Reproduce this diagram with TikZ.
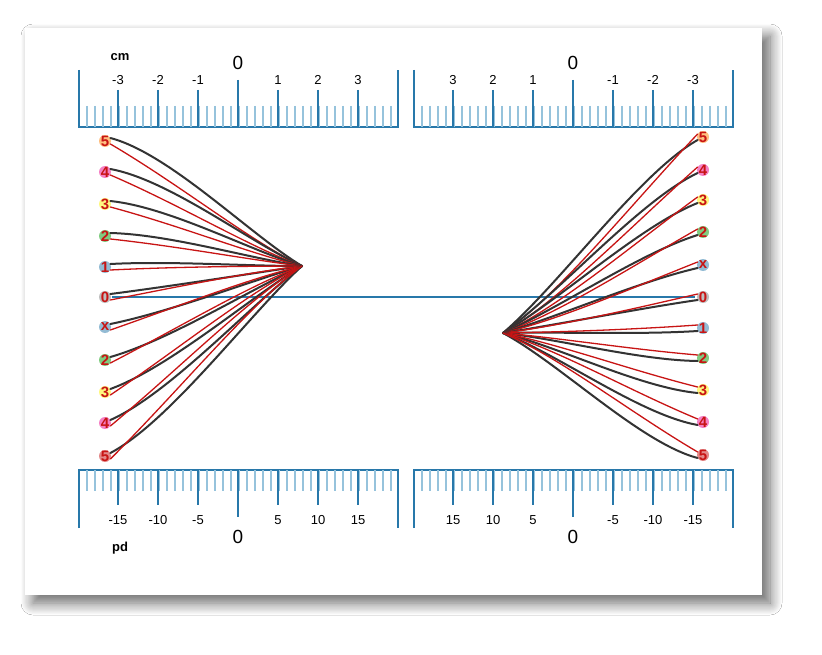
\documentclass[tikz,border=0pt]{standalone}
\usepackage{fontspec}
\setmainfont{Liberation Sans}
\usetikzlibrary{shadows.blur}
\definecolor{rb}{RGB}{40,120,170}
\definecolor{rbl}{RGB}{150,195,220}
\definecolor{rred}{RGB}{200,20,20}
\tikzset{
 card/.style={fill=white,blur shadow={shadow xshift=8pt,shadow yshift=-8pt,shadow blur steps=12,shadow blur radius=12pt,shadow opacity=60}},
 lab/.style={font=\fontsize{13}{13}\selectfont,inner sep=0},
 big/.style={font=\fontsize{19}{19}\selectfont,inner sep=0},
 unit/.style={font=\bfseries\fontsize{13}{13}\selectfont,inner sep=0},
 num/.style={font=\bfseries\fontsize{15}{15}\selectfont,text=rred,inner sep=1pt},
 bl/.style={black!80,line width=2pt,line cap=round},
 rl/.style={rred,line width=1.3pt,line cap=round},
}
\begin{document}
\begin{tikzpicture}[x=1pt,y=-1pt]
\useasboundingbox (0,0) rectangle (822,655);
\fill[white] (0,0) rectangle (822,655);
\path[card] (25,28) rectangle (762,595);
\newcommand{\toprule}[2]{%
 \draw[rb,line width=2pt] (#1,70) -- (#1,127) -- (#1+319,127) -- (#1+319,70);
 \foreach \i in {1,...,39}{\draw[rbl,line width=1.2pt] (#1+\i*8,106) -- (#1+\i*8,127);}
 \foreach \k in {-3,...,3}{\draw[rb,line width=1.5pt] (#2+\k*40,90) -- (#2+\k*40,127);}
 \draw[rb,line width=1.5pt] (#2,80) -- (#2,127);}
\newcommand{\botrule}[2]{%
 \draw[rb,line width=2pt] (#1,528) -- (#1,470) -- (#1+319,470) -- (#1+319,528);
 \foreach \i in {1,...,39}{\draw[rbl,line width=1.2pt] (#1+\i*8,470) -- (#1+\i*8,491);}
 \foreach \k in {-3,...,3}{\draw[rb,line width=1.5pt] (#2+\k*40,470) -- (#2+\k*40,505);}
 \draw[rb,line width=1.5pt] (#2,470) -- (#2,517);}
\toprule{79}{238}
\toprule{414}{573}
\botrule{79}{238}
\botrule{414}{573}
\node[unit] (cm) at (120,57) {cm};
\node[unit] (pd) at (120,548) {pd};
\node[big] (z1) at (238,63) {0};
\node[big] (z2) at (573,63) {0};
\node[big] (z3) at (238,537) {0};
\node[big] (z4) at (573,537) {0};
\foreach \k/\t in {-3/-3,-2/-2,-1/-1,1/1,2/2,3/3}{
 \node[lab] at (238+\k*40,80) {\t};
 \node[lab] at (573-\k*40,80) {\t};}
\foreach \k/\t in {-3/-15,-2/-10,-1/-5,1/5,2/10,3/15}{
 \node[lab] at (238+\k*40,520) {\t};
 \node[lab] at (573-\k*40,520) {\t};}
\draw[rb,line width=1.5pt] (112,297) -- (695,297);
\coordinate (cl) at (302,266);
\coordinate (cr) at (503,333);
\foreach \y/\t/\c [count=\n] in {141/5/orange,172/4/magenta,204/3/yellow,236/2/green!60!black,267/1/rb,297/0/gray,327/x/rb,360/2/green!60!black,392/3/yellow,423/4/magenta,456/5/rred}{
 \fill[\c!50] (105,\y) circle (6);
 \node[num] (l\n) at (105,\y) {\ifx x\t\textcolor{rb}{\textsf{x}}\else\t\fi};
 \draw[bl] (l\n.east) ++(0,-3) .. controls (170,{\y+(266-\y)*0.15-6}) and (250,{\y+(266-\y)*0.75}) .. (cl);
 \draw[rl] (l\n.east) ++(0,3) .. controls (180,{\y+(266-\y)*0.35}) and (250,{\y+(266-\y)*0.8}) .. (cl);
}
\foreach \y/\t/\c [count=\n] in {137/5/orange,170/4/magenta,200/3/yellow,232/2/green!60!black,265/x/rb,297/0/gray,328/1/rb,358/2/green!60!black,390/3/yellow,422/4/magenta,455/5/rred}{
 \fill[\c!50] (703,\y) circle (6);
 \node[num] (r\n) at (703,\y) {\ifx x\t\textcolor{rb}{\textsf{x}}\else\t\fi};
 \draw[bl] (r\n.west) ++(0,3) .. controls (640,{\y+(333-\y)*0.15+6}) and (560,{\y+(333-\y)*0.75}) .. (cr);
 \draw[rl] (r\n.west) ++(0,-3) .. controls (630,{\y+(333-\y)*0.35}) and (560,{\y+(333-\y)*0.8}) .. (cr);
}
\end{tikzpicture}
\end{document}
